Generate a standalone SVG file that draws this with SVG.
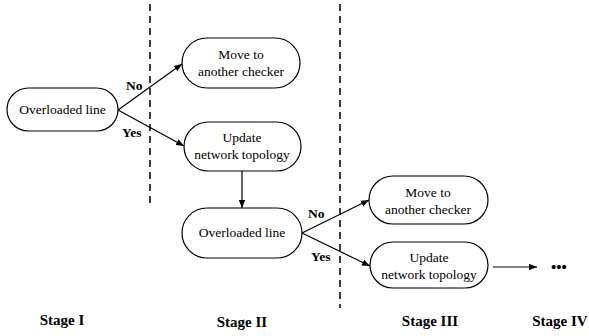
<svg xmlns="http://www.w3.org/2000/svg" width="589" height="336" viewBox="0 0 589 336">
<defs>
<style>
.node rect{fill:#fff;stroke:#000;stroke-width:1.2}
.t{font-size:13.5px;fill:#000;text-anchor:middle}
.lb{font-size:13.5px;font-weight:bold;fill:#000}
.st{font-size:15px;font-weight:bold;fill:#000;text-anchor:middle}
.c{stroke:#000;stroke-width:1.2;fill:none}
.d{stroke:#000;stroke-width:1.5;stroke-dasharray:7 5;fill:none}
</style>
<marker id="ah" viewBox="0 0 10 10" refX="10" refY="5" markerWidth="8" markerHeight="8" markerUnits="userSpaceOnUse" orient="auto">
<path d="M0,1 L10,5 L0,9 z" fill="#000"/>
</marker>
</defs>
<g font-family="Liberation Serif, Times New Roman, DejaVu Serif, serif">
<g id="dividers">
<line class="d" x1="150" y1="4" x2="150" y2="208"/>
<line class="d" x1="340" y1="4" x2="340" y2="308"/>
</g>
<g id="connectors">
<line class="c" x1="118" y1="110" x2="182" y2="64" marker-end="url(#ah)"/>
<line class="c" x1="118" y1="110" x2="184" y2="146" marker-end="url(#ah)"/>
<line class="c" x1="242" y1="171" x2="242" y2="208" marker-end="url(#ah)"/>
<line class="c" x1="302" y1="233" x2="369" y2="200" marker-end="url(#ah)"/>
<line class="c" x1="302" y1="233" x2="370" y2="266" marker-end="url(#ah)"/>
<line class="c" x1="493" y1="267" x2="537" y2="267" marker-end="url(#ah)"/>
<text class="lb" x="126" y="90">No</text>
<text class="lb" x="122" y="137">Yes</text>
<text class="lb" x="308" y="218">No</text>
<text class="lb" x="311" y="261">Yes</text>
</g>
<g id="n1" class="node">
<rect x="7" y="88" width="111" height="43" rx="21.5"/>
<text class="t" x="62.5" y="114">Overloaded line</text>
</g>
<g id="n2" class="node">
<rect x="182" y="38" width="118" height="50" rx="25"/>
<text class="t" x="241" y="59">Move to</text>
<text class="t" x="241" y="76">another checker</text>
</g>
<g id="n3" class="node">
<rect x="184" y="122" width="117" height="49" rx="24.5"/>
<text class="t" x="242" y="142">Update</text>
<text class="t" x="242" y="159">network topology</text>
</g>
<g id="n4" class="node">
<rect x="182" y="208" width="120" height="50" rx="25"/>
<text class="t" x="242" y="237">Overloaded line</text>
</g>
<g id="n5" class="node">
<rect x="369" y="176" width="119" height="48" rx="24"/>
<text class="t" x="428" y="197">Move to</text>
<text class="t" x="428" y="214">another checker</text>
</g>
<g id="n6" class="node">
<rect x="370" y="242" width="118" height="46" rx="23"/>
<text class="t" x="429" y="262">Update</text>
<text class="t" x="429" y="279">network topology</text>
</g>
<g id="ellipsis">
<text class="st" x="559" y="272">•••</text>
</g>
<g id="stages">
<text class="st" x="62" y="325">Stage I</text>
<text class="st" x="242" y="327">Stage II</text>
<text class="st" x="430" y="326">Stage III</text>
<text class="st" x="560" y="326">Stage IV</text>
</g>
</g>
</svg>
